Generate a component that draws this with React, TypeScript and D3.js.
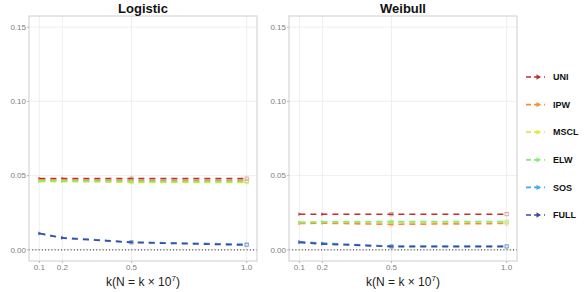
import React from "react";
import * as d3 from "d3";

const kValues = [0.1, 0.2, 0.5, 1.0];
const xTicks = [0.1, 0.2, 0.5, 1.0];
const yTicks = [0.0, 0.05, 0.1, 0.15];
const methods = ["UNI", "IPW", "MSCL", "ELW", "SOS", "FULL"];
const colors = ["#c0302c", "#ff8a3c", "#e6e63a", "#80ee70", "#40aaf0", "#3e4ba2"];
const panels = ["Logistic", "Weibull"];

const logisticUNI = [0.048, 0.048, 0.048, 0.048];
const logisticIPW = [0.047, 0.047, 0.0465, 0.0465];
const logisticMSCL = [0.046, 0.046, 0.0455, 0.0455];
const logisticELW = [0.0465, 0.0465, 0.046, 0.046];
const logisticSOS = [0.0112, 0.0082, 0.0052, 0.0038];
const logisticFULL = [0.011, 0.008, 0.005, 0.0032];

const weibullUNI = [0.024, 0.024, 0.024, 0.024];
const weibullIPW = [0.0178, 0.018, 0.0172, 0.0178];
const weibullMSCL = [0.0185, 0.0188, 0.0188, 0.0188];
const weibullELW = [0.0185, 0.0188, 0.019, 0.019];
const weibullSOS = [0.0055, 0.0045, 0.0025, 0.0025];
const weibullFULL = [0.005, 0.004, 0.0022, 0.0022];

const panelData = [
  [logisticUNI, logisticIPW, logisticMSCL, logisticELW, logisticSOS, logisticFULL],
  [weibullUNI, weibullIPW, weibullMSCL, weibullELW, weibullSOS, weibullFULL],
];

const W = 584;
const H = 292;
const panelW = 228;
const panelLeft = [29, 289];
const top = 16;
const bottom = 261;
const font = "'Liberation Sans', Arial, sans-serif";

const Panel: React.FC<{ idx: number }> = ({ idx }) => {
  const x0 = panelLeft[idx];
  const x = d3.scaleLinear().domain([0.055, 1.045]).range([x0, x0 + panelW]);
  const y = d3.scaleLinear().domain([-0.0075, 0.1575]).range([bottom, top]);
  const line = d3
    .line<[number, number]>()
    .x((d) => x(d[0]))
    .y((d) => y(d[1]));
  const tri = d3.symbol().type(d3.symbolTriangle).size(6)();

  return (
    <g>
      <rect x={x0} y={top} width={panelW} height={bottom - top} fill="white" />
      {yTicks.map((t) => (
        <line key={"gy" + t} x1={x0} x2={x0 + panelW} y1={y(t)} y2={y(t)} stroke="#ebebeb" strokeWidth={0.8} />
      ))}
      {xTicks.map((t) => (
        <line key={"gx" + t} x1={x(t)} x2={x(t)} y1={top} y2={bottom} stroke="#ebebeb" strokeWidth={0.8} />
      ))}
      <line x1={x0} x2={x0 + panelW} y1={y(0)} y2={y(0)} stroke="#222" strokeWidth={1} strokeDasharray="1,2.2" />
      {panelData[idx].map((vals, m) => {
        const pts = kValues.map((k, i) => [k, vals[i]] as [number, number]);
        return (
          <g key={m}>
            <path d={line(pts) || ""} fill="none" stroke={colors[m]} strokeWidth={1.7} strokeDasharray="6,5" />
            {pts.map((p, i) =>
              i < 2 ? (
                <path key={i} d={tri || ""} transform={`translate(${x(p[0])},${y(p[1])}) rotate(90)`} fill={colors[m]} opacity={0.8} />
              ) : (
                <rect key={i} x={x(p[0]) - 1.6} y={y(p[1]) - 1.6} width={3.2} height={3.2} fill="none" stroke={colors[m]} strokeWidth={0.7} opacity={0.6} />
              )
            )}
          </g>
        );
      })}
      <rect x={x0} y={top} width={panelW} height={bottom - top} fill="none" stroke="#d6d6d6" strokeWidth={1.2} />
      {yTicks.map((t) => (
        <g key={"ty" + t}>
          <line x1={x0 - 2} x2={x0} y1={y(t)} y2={y(t)} stroke="#bbb" />
          <text x={x0 - 3} y={y(t)} dy="0.35em" textAnchor="end" fontSize={8} fill="#808080" fontFamily={font}>
            {t.toFixed(2)}
          </text>
        </g>
      ))}
      {xTicks.map((t) => (
        <g key={"tx" + t}>
          <line x1={x(t)} x2={x(t)} y1={bottom} y2={bottom + 2} stroke="#bbb" />
          <text x={x(t)} y={bottom + 9} textAnchor="middle" fontSize={8} fill="#808080" fontFamily={font}>
            {t.toFixed(1)}
          </text>
        </g>
      ))}
      <text x={x0 + panelW / 2} y={13} textAnchor="middle" fontSize={13} fontWeight="bold" fill="#111" fontFamily={font}>
        {panels[idx]}
      </text>
      <text x={x0 + panelW / 2} y={286} textAnchor="middle" fontSize={12} fill="#222" fontFamily={font}>
        k(N = k × 10<tspan dy={-5} fontSize={8}>7</tspan>
        <tspan dy={5}>)</tspan>
      </text>
    </g>
  );
};

const App: React.FC = () => {
  const legendY = d3.scalePoint<string>().domain(methods).range([77, 215]);
  const tri = d3.symbol().type(d3.symbolTriangle).size(12)();
  return (
    <svg width={W} height={H} style={{ position: "absolute", left: 0, top: 0 }}>
      <rect width={W} height={H} fill="white" />
      <Panel idx={0} />
      <Panel idx={1} />
      {methods.map((m, i) => (
        <g key={m}>
          <line x1={526} x2={548} y1={legendY(m)} y2={legendY(m)} stroke={colors[i]} strokeWidth={1.7} strokeDasharray="5,3,6,4,1,10" />
          <path d={tri || ""} transform={`translate(538,${legendY(m)}) rotate(90)`} fill={colors[i]} />
          <text x={553} y={legendY(m)} dy="0.35em" fontSize={9} fontWeight="bold" fill="#111" fontFamily={font}>
            {m}
          </text>
        </g>
      ))}
    </svg>
  );
};

export default App;
